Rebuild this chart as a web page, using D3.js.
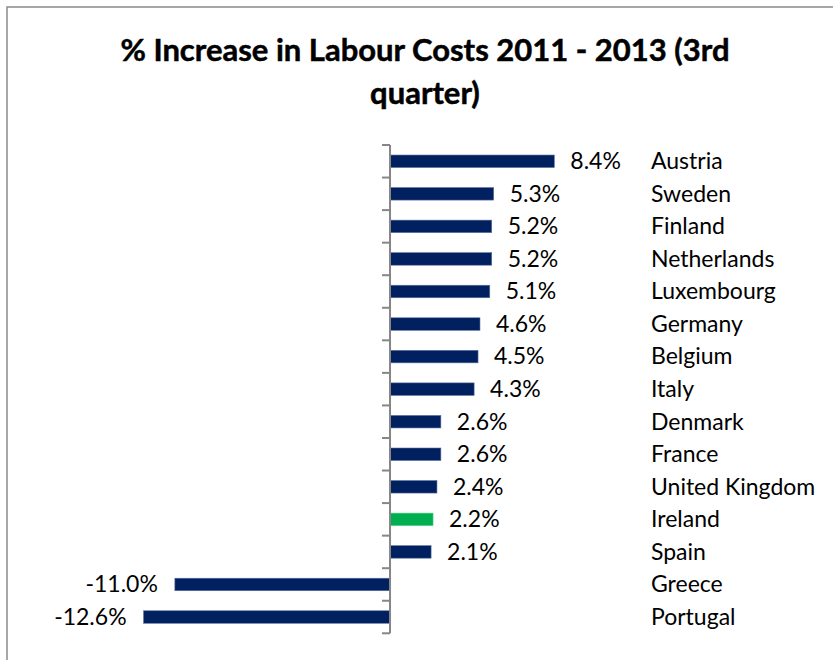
<!DOCTYPE html>
<html>
<head>
<meta charset="utf-8">
<script src="https://cdn.jsdelivr.net/npm/d3@7"></script>
<style>
  html, body { margin: 0; padding: 0; background: #fff; overflow: hidden; }
  svg { display: block; }
</style>
</head>
<body>
<svg id="chart" width="833" height="660"></svg>
<script>
const titleLines = ["% Increase in Labour Costs 2011 - 2013 (3rd", "quarter)"];
const countries = ["Austria", "Sweden", "Finland", "Netherlands", "Luxembourg", "Germany", "Belgium", "Italy", "Denmark", "France", "United Kingdom", "Ireland", "Spain", "Greece", "Portugal"];
const values = [8.4, 5.3, 5.2, 5.2, 5.1, 4.6, 4.5, 4.3, 2.6, 2.6, 2.4, 2.2, 2.1, -11.0, -12.6];
const highlight = ["Ireland"];

const data = countries.map((c, i) => ({ country: c, value: values[i] }));

const svg = d3.select("#chart");
const FONT = "Lato, 'Open Sans', sans-serif";

// outer frame (extends beyond the right/bottom edge as in the reference)
svg.append("rect")
  .attr("x", 7).attr("y", 7)
  .attr("width", 840).attr("height", 670)
  .attr("fill", "#fff")
  .attr("stroke", "#8a8a8a").attr("stroke-width", 1.5);

// title
const title = svg.append("g").attr("font-family", FONT).attr("font-weight", "bold").attr("fill", "#000");
titleLines.forEach((t, i) => {
  title.append("text")
    .attr("x", 425).attr("y", 61 + i * 43)
    .attr("text-anchor", "middle")
    .attr("font-size", 28)
    .attr("stroke", "#000").attr("stroke-width", 0.5)
    .text(t);
});
// fit first title line to the reference width
(function () {
  const first = title.select("text").node();
  const w = first.getComputedTextLength();
  const target = 615;
  const fs = 28 * target / w;
  title.selectAll("text").attr("font-size", Math.min(fs, 31));
})();

const x = d3.scaleLinear().domain([-14, 10]).range([116.2, 585.6]);
const y = d3.scaleBand().domain(countries).range([145, 633.3]).paddingInner(0.616).paddingOuter(0.308);

// bars
svg.append("g").selectAll("rect").data(data).join("rect")
  .attr("x", d => x(Math.min(0, d.value)))
  .attr("width", d => Math.abs(x(d.value) - x(0)))
  .attr("y", d => y(d.country))
  .attr("height", y.bandwidth())
  .attr("fill", d => highlight.includes(d.country) ? "#00B050" : "#002060")
  .attr("stroke", d => highlight.includes(d.country) ? "#4fcf85" : "#5a6f9c")
  .attr("stroke-width", 0.6);

// axis (vertical, at zero, ticks between categories on the left)
const axisG = svg.append("g").attr("stroke", "#868686").attr("stroke-width", 2);
const step = y.step();
axisG.append("line")
  .attr("x1", x(0)).attr("x2", x(0))
  .attr("y1", 145).attr("y2", 633.3);
const boundaries = d3.range(countries.length + 1).map(i => 145 + i * step);
axisG.selectAll("line.tick").data(boundaries).join("line")
  .attr("class", "tick")
  .attr("x1", x(0) - 8).attr("x2", x(0))
  .attr("y1", d => d).attr("y2", d => d);

const LABEL_FS = 23;
// value labels
const fmt = v => v.toFixed(1) + "%";
svg.append("g").attr("font-family", FONT).attr("font-size", LABEL_FS).attr("fill", "#000")
  .selectAll("text").data(data).join("text")
  .attr("x", d => d.value >= 0 ? x(d.value) + 16 : x(d.value) - 17)
  .attr("y", d => y(d.country) + y.bandwidth() / 2)
  .attr("dy", "0.34em")
  .attr("text-anchor", d => d.value >= 0 ? "start" : "end")
  .text(d => fmt(d.value));

// category labels on the right
svg.append("g").attr("font-family", FONT).attr("font-size", LABEL_FS).attr("fill", "#000")
  .selectAll("text").data(data).join("text")
  .attr("x", 651)
  .attr("y", d => y(d.country) + y.bandwidth() / 2)
  .attr("dy", "0.34em")
  .text(d => d.country);
</script>
</body>
</html>
